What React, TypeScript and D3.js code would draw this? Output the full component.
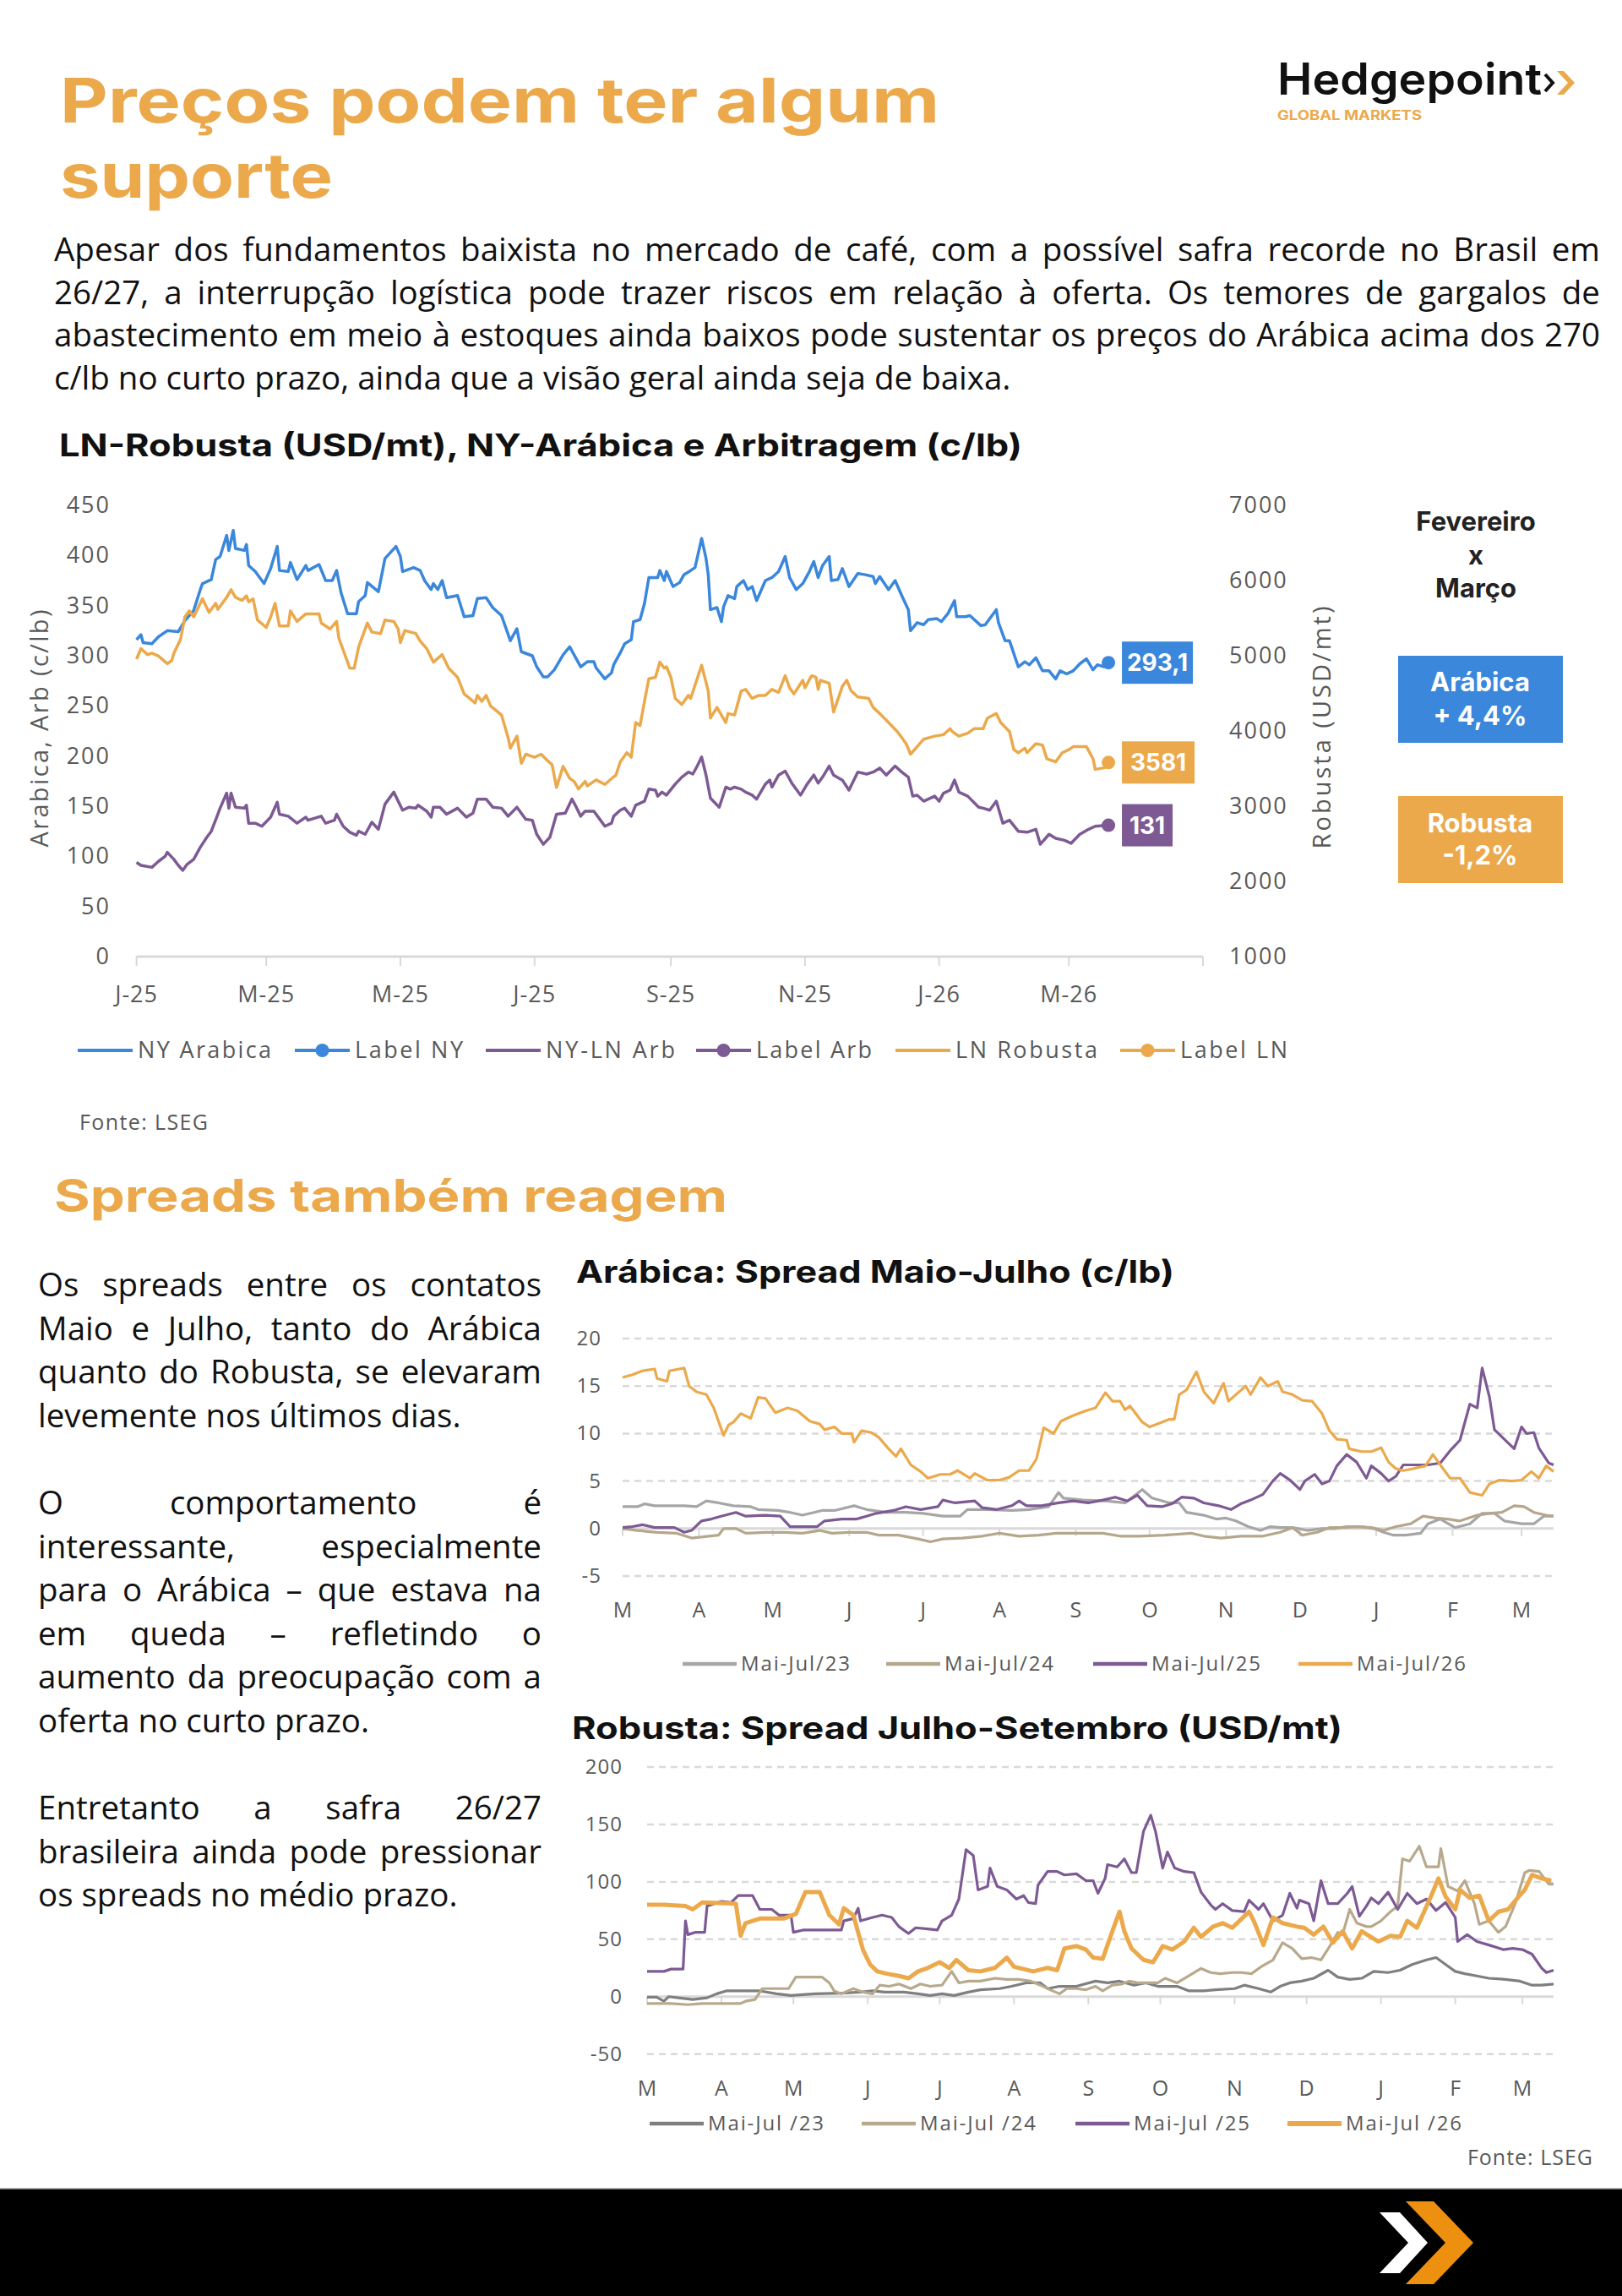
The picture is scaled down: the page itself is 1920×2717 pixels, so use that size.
import React, { useMemo } from "react";
import * as d3 from "d3";

// ---------- data ----------
// main chart: [days since 2025-01-01, value]
const NY_ARABICA: [number, number][] = [
  [0,316],[2,321],[3,313],[7,312],[10,319],[14,325],[19,324],[22,335],[26,345],[29,366],[30,372],[34,376],[36,396],[38,399],[41,420],[42,405],[44,425],[45,407],[49,405],[50,411],[51,390],[54,384],[57,375],[58,372],[61,387],[64,409],[65,385],[69,384],[70,393],[73,376],[77,390],[78,385],[83,391],[86,375],[89,375],[91,385],[93,363],[96,342],[100,342],[101,354],[104,360],[105,373],[110,364],[113,397],[118,409],[120,399],[121,384],[126,388],[129,385],[131,375],[134,366],[135,372],[137,366],[139,375],[141,358],[146,360],[149,339],[153,340],[155,357],[159,358],[162,348],[166,340],[170,315],[173,327],[175,304],[180,300],[182,289],[185,279],[187,279],[190,286],[194,301],[197,309],[200,297],[202,289],[205,294],[208,294],[209,288],[213,277],[216,283],[217,291],[220,303],[222,312],[225,316],[226,334],[229,336],[231,352],[233,378],[237,378],[238,385],[240,375],[241,384],[244,369],[247,373],[249,381],[252,385],[254,388],[257,417],[259,397],[260,381],[261,346],[264,348],[266,334],[267,349],[269,360],[272,357],[273,369],[276,375],[278,366],[280,369],[282,355],[286,375],[289,378],[292,384],[295,399],[297,378],[300,366],[303,372],[306,384],[308,394],[310,378],[312,390],[315,399],[316,375],[319,376],[321,387],[324,369],[328,382],[331,381],[335,379],[336,372],[338,379],[342,366],[345,375],[348,360],[351,346],[352,325],[355,333],[358,331],[360,336],[364,337],[366,334],[369,342],[372,355],[373,339],[377,339],[379,340],[384,330],[386,331],[391,346],[392,333],[395,315],[397,315],[401,289],[404,294],[406,291],[409,298],[412,285],[415,285],[418,277],[420,285],[423,282],[426,285],[429,292],[432,297],[435,286],[437,291],[440,289],[442,293.1],
];
const LN_ROBUSTA: [number, number][] = [
  [0,4955],[2,5095],[5,5015],[7,5035],[10,4995],[14,4895],[16,4935],[17,5035],[20,5216],[22,5517],[24,5597],[26,5517],[30,5757],[33,5577],[36,5697],[37,5617],[41,5777],[43,5878],[45,5777],[48,5737],[50,5797],[51,5717],[53,5757],[55,5476],[59,5376],[61,5517],[63,5697],[65,5396],[69,5396],[70,5597],[73,5456],[77,5557],[83,5557],[84,5436],[88,5356],[91,5456],[92,5236],[97,4834],[99,4834],[101,5115],[105,5436],[107,5316],[111,5296],[113,5476],[117,5456],[119,5356],[120,5175],[122,5336],[127,5296],[129,5196],[132,5095],[135,4915],[139,5015],[142,4834],[146,4714],[149,4493],[154,4373],[155,4473],[157,4393],[159,4473],[161,4333],[166,4212],[169,3911],[170,3771],[173,3931],[175,3570],[177,3691],[181,3651],[184,3691],[186,3631],[189,3550],[191,3249],[194,3530],[197,3370],[199,3330],[201,3229],[204,3330],[205,3269],[209,3350],[213,3289],[217,3390],[218,3410],[220,3590],[223,3711],[225,3651],[227,4112],[229,4072],[231,4393],[233,4694],[236,4714],[238,4915],[240,4834],[241,4854],[243,4714],[245,4433],[248,4353],[251,4473],[252,4433],[257,4874],[260,4533],[261,4172],[264,4313],[268,4112],[269,4232],[272,4212],[275,4533],[277,4553],[280,4433],[283,4473],[286,4473],[289,4553],[292,4513],[295,4734],[297,4574],[299,4493],[303,4674],[304,4574],[307,4734],[309,4714],[310,4553],[311,4674],[315,4634],[317,4252],[321,4594],[323,4674],[325,4533],[328,4453],[333,4433],[335,4313],[338,4232],[342,4112],[346,3992],[350,3831],[352,3691],[355,3791],[358,3891],[363,3931],[367,3951],[370,4031],[371,3992],[374,3931],[378,3971],[381,4031],[385,4031],[387,4172],[391,4232],[393,4112],[397,3992],[399,3751],[401,3711],[404,3771],[405,3711],[409,3831],[412,3811],[414,3631],[418,3590],[421,3711],[424,3751],[426,3791],[429,3791],[432,3791],[435,3631],[436,3490],[440,3510],[442,3581],
];
const NY_LN_ARB: [number, number][] = [
  [0,94],[2,91],[7,89],[10,95],[13,100],[14,104],[17,97],[19,91],[21,86],[23,92],[26,97],[29,109],[32,119],[34,125],[37,142],[38,148],[41,163],[42,148],[43,163],[45,149],[49,148],[50,151],[51,133],[54,133],[57,130],[61,139],[64,154],[65,142],[69,140],[73,133],[77,139],[78,136],[84,140],[86,133],[90,136],[91,142],[94,130],[97,124],[100,121],[101,125],[104,122],[107,134],[110,127],[113,152],[117,164],[121,146],[124,149],[127,148],[128,151],[132,145],[134,139],[135,149],[138,149],[141,142],[146,148],[150,139],[153,143],[155,157],[159,157],[162,149],[166,148],[169,140],[173,149],[177,137],[180,136],[182,122],[185,112],[188,119],[191,142],[195,143],[198,157],[200,149],[202,140],[204,145],[208,145],[211,136],[213,130],[216,133],[217,140],[220,146],[222,148],[225,140],[227,151],[231,155],[233,167],[236,166],[237,160],[239,164],[241,161],[245,172],[248,179],[251,184],[253,182],[255,190],[257,199],[259,181],[261,158],[265,149],[268,169],[270,167],[272,169],[275,167],[277,164],[280,161],[282,157],[286,172],[288,176],[289,169],[292,181],[295,185],[298,173],[302,161],[305,172],[308,181],[310,173],[312,179],[315,190],[317,181],[321,176],[324,166],[328,184],[332,182],[335,184],[338,188],[341,181],[345,190],[348,184],[351,179],[353,160],[355,161],[358,155],[363,160],[365,155],[367,163],[370,166],[372,176],[374,164],[378,160],[383,149],[385,148],[388,146],[391,155],[394,133],[397,136],[401,125],[405,124],[409,127],[411,112],[415,122],[418,118],[422,116],[425,113],[429,122],[433,127],[436,130],[442,131],
];
const LAST_LABELS = ["293,1", "3581", "131"];
const MAIN_X_LABELS = ["J-25", "M-25", "M-25", "J-25", "S-25", "N-25", "J-26", "M-26"];
const MAIN_LEGEND = ["NY Arabica", "Label NY", "NY-LN Arb", "Label Arb", "LN Robusta", "Label LN"];

// spreads: [days since 1 March of the season, value]
const ARA_23: [number, number][] = [
  [0,2.3],[6,2.3],[9,2.6],[13,2.4],[18,2.4],[25,2.4],[30,2.3],[34,2.9],[39,2.7],[45,2.4],[52,2.3],[55,2.0],[63,1.9],[68,1.7],[73,1.4],[81,1.9],[86,1.9],[94,2.4],[99,2.0],[107,1.7],[115,1.7],[122,1.6],[130,1.3],[137,1.3],[140,2.0],[148,2.0],[158,1.9],[165,2.0],[173,2.3],[177,3.8],[179,3.2],[187,3.0],[196,2.9],[204,2.7],[211,4.1],[215,3.2],[222,2.7],[226,2.7],[229,1.7],[236,1.4],[241,1.0],[245,1.1],[249,0.8],[254,0.2],[259,-0.2],[263,0.2],[267,0.1],[272,0.1],[278,-0.2],[284,0],[289,0],[294,0.2],[300,0.2],[305,0],[309,-0.4],[313,-0.7],[318,-0.7],[324,-0.5],[327,0.5],[332,1.0],[338,0.1],[344,0.5],[349,1.6],[354,1.6],[358,0.8],[365,0.5],[370,0.5],[374,1.3],[378,1.3],
];
const ARA_24: [number, number][] = [
  [0,0],[6,-0.2],[14,-0.4],[22,-0.5],[28,-1.0],[35,-0.8],[39,-0.7],[41,0],[46,0],[50,-0.5],[58,-0.4],[66,-0.4],[73,-0.5],[80,-0.2],[85,-0.5],[92,-0.4],[99,-0.4],[104,-0.7],[112,-0.7],[120,-1.1],[125,-1.4],[130,-1.1],[138,-1.0],[146,-0.8],[153,-0.5],[161,-0.8],[169,-0.7],[176,-0.5],[184,-0.5],[195,-0.5],[202,-0.8],[210,-0.8],[220,-0.7],[231,-0.5],[236,-0.8],[243,-1.0],[251,-0.8],[260,-0.8],[267,-0.4],[272,0.1],[276,-0.7],[282,-0.4],[287,0.1],[293,0.1],[298,0.2],[304,0.1],[309,-0.2],[314,0.2],[320,0.5],[325,1.3],[330,1.1],[335,1.0],[340,0.8],[347,1.4],[352,1.6],[357,1.7],[362,2.4],[366,2.3],[370,1.7],[375,1.4],[378,1.3],
];
const ARA_25: [number, number][] = [
  [0,0.1],[4,0.2],[8,0.4],[13,0.1],[21,0.1],[25,-0.4],[28,-0.2],[32,0.8],[36,1.0],[40,1.3],[46,1.7],[50,1.3],[58,1.4],[64,1.3],[68,0.2],[79,0.2],[82,0.8],[89,1.0],[95,1.0],[99,1.3],[103,1.6],[110,1.9],[115,2.3],[121,2.0],[128,2.3],[130,3.0],[135,2.7],[143,2.9],[146,2.2],[152,2.0],[158,2.4],[161,2.9],[164,2.4],[170,2.4],[177,2.7],[183,2.9],[189,2.7],[195,3.0],[200,3.3],[205,2.9],[209,3.5],[213,2.4],[219,2.3],[223,2.6],[227,3.3],[232,3.2],[236,2.7],[242,2.4],[247,2.0],[251,2.6],[255,3.0],[260,3.6],[264,5.0],[267,5.8],[271,5.1],[275,4.1],[277,5.0],[281,5.7],[284,4.7],[287,5.0],[290,6.6],[294,7.8],[298,7.0],[302,5.3],[304,6.6],[308,5.8],[311,5.0],[314,5.5],[317,6.7],[321,6.7],[327,6.7],[332,6.9],[336,8.2],[340,9.3],[344,13.1],[347,12.7],[349,16.9],[352,13.8],[354,10.4],[358,9.4],[362,8.4],[365,10.7],[367,10.0],[370,10.1],[372,8.5],[376,6.9],[378,6.7],
];
const ARA_26: [number, number][] = [
  [0,15.9],[4,16.2],[8,16.6],[13,16.8],[14,15.8],[18,15.5],[19,16.6],[25,16.9],[27,15.0],[30,14.4],[34,14.1],[37,12.7],[41,9.8],[43,10.9],[45,11.2],[48,12.1],[52,11.6],[55,13.8],[58,13.7],[62,12.2],[67,12.7],[71,12.4],[76,11.3],[80,11.0],[82,10.4],[86,10.7],[89,10.0],[93,10.0],[94,9.1],[97,10.3],[101,10.1],[104,9.6],[108,8.4],[111,7.6],[113,8.4],[117,6.7],[121,6.0],[124,5.3],[129,5.7],[133,5.7],[136,6.1],[141,5.3],[143,5.8],[148,5.1],[153,5.1],[157,5.4],[161,6.1],[165,6.1],[168,7.3],[171,10.6],[175,10.0],[178,11.3],[183,11.9],[188,12.4],[192,12.7],[196,14.3],[199,13.4],[202,13.4],[204,12.5],[206,12.9],[211,11.2],[214,10.7],[217,11.0],[222,11.5],[224,11.5],[226,14.1],[229,14.6],[233,16.5],[236,14.4],[240,13.2],[244,15.3],[246,13.4],[249,14.1],[253,15.0],[255,14.1],[259,15.9],[262,15.0],[266,15.5],[268,14.4],[272,14.1],[276,13.5],[280,13.4],[284,12.1],[287,10.3],[290,9.4],[294,9.3],[295,8.4],[300,8.1],[304,8.1],[308,8.5],[311,7.0],[314,6.3],[317,6.1],[321,6.3],[326,6.6],[329,7.8],[332,6.7],[336,5.3],[340,5.3],[344,3.8],[349,3.5],[352,4.7],[356,5.1],[361,5.0],[365,5.1],[369,6.0],[372,5.3],[375,6.6],[378,6.0],
];
const ROB_23: [number, number][] = [
  [0,-0.5],[4,-0.5],[7,-4],[9,0],[13,-1],[19,-2.5],[25,-1],[29,2.5],[33,5],[47,5],[54,2.5],[60,1],[70,2.5],[81,3],[89,4],[94,5],[99,4],[107,4],[113,2.5],[118,1],[123,2.5],[128,1],[134,4],[139,6],[147,7],[152,9],[158,12],[164,12],[167,7],[172,9],[179,9],[187,13.5],[192,12],[197,13.5],[203,10],[208,12],[213,9],[221,9],[226,5],[232,5],[237,6],[245,7],[249,10],[255,7],[260,4],[264,9],[268,12],[273,13.5],[278,16],[284,23],[288,17],[293,15],[298,16],[303,22],[309,21],[314,23],[319,28],[325,32],[329,34],[333,28],[337,22],[341,20],[346,18],[351,16],[358,15],[364,13.5],[369,10],[373,10],[378,11],
];
const ROB_24: [number, number][] = [
  [0,-6],[10,-6],[17,-7],[23,-6],[39,-6],[41,-4],[45,-2.5],[48,7],[59,7],[62,17],[73,17],[76,12],[78,5],[81,2.5],[86,7],[90,4],[94,2.5],[97,10],[101,9],[105,11],[110,7],[114,11],[118,9],[123,10],[127,22],[130,12],[134,13.5],[139,13.5],[145,16],[150,15],[155,15],[160,13.5],[164,10],[168,6],[172,2.5],[175,7],[179,7],[183,6],[187,9],[190,5],[194,10],[198,11],[201,13.5],[205,12],[209,12],[213,12],[216,16],[221,12],[225,17],[231,24.5],[235,21],[239,20],[244,21],[248,21],[252,20],[256,26],[261,32],[265,47],[269,42],[273,33],[277,34],[281,32],[285,45],[288,56],[290,54],[293,76],[296,64],[300,61],[302,61],[306,66],[310,74],[313,79],[315,120],[318,118],[322,131],[325,113],[330,113],[331,129],[334,96],[338,92],[341,101],[345,81],[347,63],[351,66],[355,56],[358,61],[362,81],[366,108],[368,110],[372,109],[376,98],[378,98],
];
const ROB_25: [number, number][] = [
  [0,22],[7,22],[10,24],[15,24],[16,66],[17,54],[20,56],[24,56],[25,79],[31,83],[35,82],[38,88],[44,88],[47,76],[52,76],[55,71],[60,71],[61,56],[65,58],[70,58],[81,58],[82,66],[86,68],[88,77],[89,66],[94,69],[98,71],[102,69],[105,61],[109,55],[112,60],[117,59],[121,58],[123,66],[127,71],[130,85],[133,128],[136,123],[138,93],[142,96],[143,112],[146,96],[150,93],[154,85],[157,88],[159,82],[162,81],[163,97],[167,109],[171,109],[174,106],[179,107],[183,101],[186,101],[188,90],[191,103],[192,115],[196,113],[199,120],[202,108],[204,108],[207,144],[210,158],[212,144],[215,112],[217,126],[220,112],[224,109],[228,108],[231,91],[235,80],[237,76],[240,81],[244,75],[249,74],[251,84],[255,76],[257,81],[261,66],[265,71],[268,90],[271,77],[272,84],[276,81],[278,66],[281,101],[284,81],[288,81],[292,90],[294,96],[297,70],[300,79],[302,86],[305,81],[309,91],[313,76],[317,90],[321,81],[325,85],[329,75],[333,82],[337,69],[338,48],[342,54],[346,48],[351,45],[357,41],[361,42],[365,41],[369,37],[373,25],[375,21],[378,23],
];
const ROB_26: [number, number][] = [
  [0,80],[7,80],[16,79],[19,76],[23,82],[37,81],[39,53],[41,64],[47,68],[57,68],[62,72],[66,91],[72,91],[76,71],[80,63],[82,77],[86,71],[90,41],[93,28],[96,22],[100,20],[105,18],[109,16],[113,22],[117,25],[122,30],[126,25],[129,32],[134,23],[139,22],[145,25],[150,34],[153,26],[161,22],[167,25],[171,23],[174,42],[179,44],[183,41],[186,34],[190,33],[194,57],[197,74],[199,57],[202,42],[207,32],[211,30],[215,44],[219,41],[224,48],[228,60],[231,52],[236,61],[240,64],[244,60],[248,68],[251,74],[253,66],[257,45],[261,69],[265,64],[271,61],[274,60],[278,54],[282,61],[286,47],[290,57],[294,42],[298,57],[301,53],[305,48],[310,53],[314,52],[317,66],[321,60],[324,74],[327,88],[330,103],[333,87],[337,76],[339,93],[343,86],[347,88],[351,66],[355,74],[359,76],[363,86],[366,93],[369,106],[373,103],[377,101],
];
const MONTH_LETTERS = ["M", "A", "M", "J", "J", "A", "S", "O", "N", "D", "J", "F", "M"];
const ARA_LEGEND = ["Mai-Jul/23", "Mai-Jul/24", "Mai-Jul/25", "Mai-Jul/26"];
const ROB_LEGEND = ["Mai-Jul /23", "Mai-Jul /24", "Mai-Jul /25", "Mai-Jul /26"];

const INTRO = [
  "Apesar dos fundamentos baixista no mercado de café, com a possível safra recorde no Brasil em",
  "26/27, a interrupção logística pode trazer riscos em relação à oferta. Os temores de gargalos de",
  "abastecimento em meio à estoques ainda baixos pode sustentar os preços do Arábica acima dos 270",
  "c/lb no curto prazo, ainda que a visão geral ainda seja de baixa.",
];
const SIDE_TEXT = [
  ["Os spreads entre os contatos", "Maio e Julho, tanto do Arábica", "quanto do Robusta, se elevaram", "levemente nos últimos dias."],
  ["O comportamento é", "interessante, especialmente", "para o Arábica – que estava na", "em queda – refletindo o", "aumento da preocupação com a", "oferta no curto prazo."],
  ["Entretanto a safra 26/27", "brasileira ainda pode pressionar", "os spreads no médio prazo."],
];

// ---------- style ----------
const ORANGE = "#EBA94C";
const BLUE = "#3A87DB";
const PURPLE = "#7D5A93";
const GREY_TXT = "#595959";
const GRID = "#D9D9D9";
const HEAD = "Inter, 'Open Sans', sans-serif";
const BODY = "'Open Sans', sans-serif";
const AXIS = "'Open Sans', sans-serif";

const canvas = typeof document !== "undefined" ? document.createElement("canvas") : null;
const measure = (s: string, font: string) => {
  const ctx = canvas!.getContext("2d")!;
  ctx.font = font;
  return ctx.measureText(s).width;
};

type Word = { x: number; y: number; t: string };
function justify(lines: string[], x0: number, x1: number, y0: number, lh: number, size: number): Word[] {
  const font = `${size}px "Open Sans"`;
  const out: Word[] = [];
  lines.forEach((line, i) => {
    const y = y0 + i * lh;
    const words = line.split(" ");
    if (i === lines.length - 1 || words.length === 1) {
      out.push({ x: x0, y, t: line });
      return;
    }
    const widths = words.map((w) => measure(w, font));
    const gap = (x1 - x0 - d3.sum(widths)) / (words.length - 1);
    let x = x0;
    words.forEach((w, j) => {
      out.push({ x, y, t: w });
      x += widths[j] + gap;
    });
  });
  return out;
}

const T0 = new Date(2025, 0, 1);
const S0 = new Date(2025, 2, 1);

function SpreadChart(props: {
  series: [number, number][][];
  colors: string[];
  widths: number[];
  legend: string[];
  legendX: number[];
  legendW: number;
  x0: number;
  x1: number;
  yDomain: [number, number];
  yRange: [number, number];
  yTicks: number[];
  labelX: number;
  monthY: number;
  legendY: number;
}) {
  const x = d3.scaleTime().domain([S0, d3.timeDay.offset(S0, 378)]).range([props.x0, props.x1]);
  const y = d3.scaleLinear().domain(props.yDomain).range(props.yRange);
  const line = d3
    .line<[number, number]>()
    .x((d) => x(d3.timeDay.offset(S0, d[0])))
    .y((d) => y(d[1]));
  const months = d3.timeMonth.range(S0, d3.timeDay.offset(S0, 370));
  return (
    <g>
      {props.yTicks.map((t) => (
        <g key={t}>
          <line
            x1={props.x0}
            x2={props.x1}
            y1={y(t)}
            y2={y(t)}
            stroke={GRID}
            strokeWidth={t === 0 ? 3 : 2.5}
            strokeDasharray={t === 0 ? undefined : "8 6"}
          />
          <text x={props.labelX} y={y(t) + 8} textAnchor="end" fontSize={24} fill={GREY_TXT} fontFamily={AXIS} letterSpacing={1}>
            {t}
          </text>
        </g>
      ))}
      {months.map((m, i) => (
        <g key={i}>
          <line x1={x(m)} x2={x(m)} y1={y(0)} y2={y(0) + 9} stroke={GRID} strokeWidth={2} />
          <text x={x(m)} y={props.monthY} textAnchor="middle" fontSize={25} fill={GREY_TXT} fontFamily={AXIS}>
            {MONTH_LETTERS[i]}
          </text>
        </g>
      ))}
      {props.series.map((s, i) => (
        <path
          key={i}
          d={line(s) || ""}
          fill="none"
          stroke={props.colors[i]}
          strokeWidth={props.widths[i]}
          strokeLinejoin="round"
        />
      ))}
      {props.legend.map((l, i) => (
        <g key={l}>
          <line
            x1={props.legendX[i]}
            x2={props.legendX[i] + 64}
            y1={props.legendY}
            y2={props.legendY}
            stroke={props.colors[i]}
            strokeWidth={Math.max(4.5, props.widths[i] + 1)}
          />
          <text
            x={props.legendX[i] + 69}
            y={props.legendY + 8}
            fontSize={24}
            fill={GREY_TXT}
            fontFamily={AXIS}
            textLength={props.legendW}
            lengthAdjust="spacing"
          >
            {l}
          </text>
        </g>
      ))}
    </g>
  );
}

export default function App() {
  const intro = useMemo(() => justify(INTRO, 64, 1894, 309, 50.7, 38.5), []);
  const side = useMemo(() => {
    const starts = [0, 5, 12];
    return SIDE_TEXT.flatMap((p, i) => justify(p, 45, 641, 1534 + starts[i] * 51.6, 51.6, 38.5));
  }, []);

  // main chart scales
  const x = d3.scaleTime().domain([T0, new Date(2026, 4, 1)]).range([161.6, 1424]);
  const yL = d3.scaleLinear().domain([0, 450]).range([1132, 598]);
  const yR = d3.scaleLinear().domain([1000, 7000]).range([1132, 598]);
  const lineL = d3
    .line<[number, number]>()
    .x((d) => x(d3.timeDay.offset(T0, d[0])))
    .y((d) => yL(d[1]));
  const lineR = d3
    .line<[number, number]>()
    .x((d) => x(d3.timeDay.offset(T0, d[0])))
    .y((d) => yR(d[1]));
  const xTicks = d3.timeMonth.every(2)!.range(T0, new Date(2026, 4, 2));

  const lastPts = [
    { s: NY_ARABICA, y: yL, c: BLUE, w: 84 },
    { s: LN_ROBUSTA, y: yR, c: ORANGE, w: 86 },
    { s: NY_LN_ARB, y: yL, c: PURPLE, w: 60 },
  ].map((o) => {
    const d = o.s[o.s.length - 1];
    return { ...o, px: x(d3.timeDay.offset(T0, d[0])), py: o.y(d[1]) };
  });

  const legendItems = [
    { x: 92, c: BLUE, m: false, w: 158 },
    { x: 349, c: BLUE, m: true, w: 128 },
    { x: 575, c: PURPLE, m: false, w: 153 },
    { x: 824, c: PURPLE, m: true, w: 137 },
    { x: 1060, c: ORANGE, m: false, w: 168 },
    { x: 1326, c: ORANGE, m: true, w: 127 },
  ];

  return (
    <svg
      width={1920}
      height={2717}
      viewBox="0 0 1920 2717"
      style={{ position: "absolute", left: 0, top: 0, display: "block", background: "#fff" }}
    >
      <rect width={1920} height={2717} fill="#fff" />

      {/* header */}
      <text x={71} y={145} fontFamily={HEAD} fontWeight={700} fontSize={73} fill={ORANGE} textLength={1041} lengthAdjust="spacingAndGlyphs">
        Preços podem ter algum
      </text>
      <text x={71} y={234} fontFamily={HEAD} fontWeight={700} fontSize={73} fill={ORANGE} textLength={323} lengthAdjust="spacingAndGlyphs">
        suporte
      </text>
      <text x={1512} y={112} fontFamily={HEAD} fontWeight={600} fontSize={52} fill="#111" textLength={313} lengthAdjust="spacingAndGlyphs">
        Hedgepoint
      </text>
      <polyline points="1829,88 1838,98 1829,108" fill="none" stroke="#111" strokeWidth={4} />
      <polygon points="1843,84 1851,84 1864,98 1851,112 1843,112 1856,98" fill={ORANGE} />
      <text x={1512} y={142} fontFamily={HEAD} fontWeight={700} fontSize={16} fill={ORANGE} textLength={171} lengthAdjust="spacingAndGlyphs">
        GLOBAL MARKETS
      </text>

      {intro.map((w, i) => (
        <text key={i} x={w.x} y={w.y} fontFamily={BODY} fontSize={38.5} fill="#111">
          {w.t}
        </text>
      ))}

      {/* main chart */}
      <text x={70} y={540} fontFamily={HEAD} fontWeight={700} fontSize={37} fill="#111" textLength={1140} lengthAdjust="spacingAndGlyphs">
        LN-Robusta (USD/mt), NY-Arábica e Arbitragem (c/lb)
      </text>
      <line x1={161.6} x2={1424} y1={1132} y2={1132} stroke={GRID} strokeWidth={3} />
      {xTicks.map((t, i) => (
        <g key={i}>
          <line x1={x(t)} x2={x(t)} y1={1132} y2={1143} stroke={GRID} strokeWidth={2} />
          {MAIN_X_LABELS[i] && (
            <text x={x(t)} y={1186} textAnchor="middle" fontSize={27} fill={GREY_TXT} fontFamily={AXIS} letterSpacing={1}>
              {MAIN_X_LABELS[i]}
            </text>
          )}
        </g>
      ))}
      {yL.ticks(9).map((t) => (
        <text key={t} x={131} y={yL(t) + 9} textAnchor="end" fontSize={27} fill={GREY_TXT} fontFamily={AXIS} letterSpacing={2}>
          {t}
        </text>
      ))}
      {yR.ticks(6).map((t) => (
        <text key={t} x={1455} y={yR(t) + 9} fontSize={27} fill={GREY_TXT} fontFamily={AXIS} letterSpacing={2}>
          {t}
        </text>
      ))}
      <text transform="translate(57,862) rotate(-90)" textAnchor="middle" fontSize={29} fill={GREY_TXT} fontFamily={AXIS} textLength={281} lengthAdjust="spacing">
        Arabica, Arb (c/lb)
      </text>
      <text transform="translate(1575,861) rotate(-90)" textAnchor="middle" fontSize={29} fill={GREY_TXT} fontFamily={AXIS} textLength={287} lengthAdjust="spacing">
        Robusta (USD/mt)
      </text>

      <path d={lineL(NY_ARABICA) || ""} fill="none" stroke={BLUE} strokeWidth={3.5} strokeLinejoin="round" />
      <path d={lineL(NY_LN_ARB) || ""} fill="none" stroke={PURPLE} strokeWidth={3.5} strokeLinejoin="round" />
      <path d={lineR(LN_ROBUSTA) || ""} fill="none" stroke={ORANGE} strokeWidth={3.5} strokeLinejoin="round" />

      {lastPts.map((p, i) => (
        <g key={i}>
          <circle cx={p.px} cy={p.py} r={8} fill={p.c} />
          <rect x={p.px + 16} y={p.py - 25} width={p.w} height={50} fill={p.c} />
          <text x={p.px + 16 + p.w / 2} y={p.py + 10} textAnchor="middle" fontFamily={HEAD} fontWeight={700} fontSize={28} fill="#fff">
            {LAST_LABELS[i]}
          </text>
        </g>
      ))}

      {legendItems.map((it, i) => (
        <g key={i}>
          <line x1={it.x} x2={it.x + 65} y1={1243} y2={1243} stroke={it.c} strokeWidth={4} />
          {it.m && <circle cx={it.x + 32.5} cy={1243} r={8} fill={it.c} />}
          <text x={it.x + 71} y={1252} fontSize={27} fill={GREY_TXT} fontFamily={AXIS} textLength={it.w} lengthAdjust="spacing">
            {MAIN_LEGEND[i]}
          </text>
        </g>
      ))}
      <text x={94} y={1337} fontSize={25} fill={GREY_TXT} fontFamily={AXIS} textLength={152} lengthAdjust="spacing">
        Fonte: LSEG
      </text>

      {/* right panel */}
      {["Fevereiro", "x", "Março"].map((t, i) => (
        <text key={t} x={1747} y={628 + i * 39.5} textAnchor="middle" fontFamily={HEAD} fontWeight={700} fontSize={31} fill="#222">
          {t}
        </text>
      ))}
      <rect x={1655} y={776} width={195} height={103} fill={BLUE} />
      <text x={1752} y={818} textAnchor="middle" fontFamily={HEAD} fontWeight={700} fontSize={31} fill="#fff">
        Arábica
      </text>
      <text x={1752} y={858} textAnchor="middle" fontFamily={HEAD} fontWeight={700} fontSize={31} fill="#fff">
        + 4,4%
      </text>
      <rect x={1655} y={942} width={195} height={103} fill={ORANGE} />
      <text x={1752} y={985} textAnchor="middle" fontFamily={HEAD} fontWeight={700} fontSize={31} fill="#fff">
        Robusta
      </text>
      <text x={1752} y={1023} textAnchor="middle" fontFamily={HEAD} fontWeight={700} fontSize={31} fill="#fff">
        -1,2%
      </text>

      {/* spreads section */}
      <text x={64} y={1434} fontFamily={HEAD} fontWeight={700} fontSize={53} fill={ORANGE} textLength={797} lengthAdjust="spacingAndGlyphs">
        Spreads também reagem
      </text>
      {side.map((w, i) => (
        <text key={i} x={w.x} y={w.y} fontFamily={BODY} fontSize={38.5} fill="#111">
          {w.t}
        </text>
      ))}

      <text x={682} y={1518} fontFamily={HEAD} fontWeight={700} fontSize={37} fill="#111" textLength={708} lengthAdjust="spacingAndGlyphs">
        Arábica: Spread Maio-Julho (c/lb)
      </text>
      <SpreadChart
        series={[ARA_23, ARA_24, ARA_25, ARA_26]}
        colors={["#A6A6A6", "#B5A78C", PURPLE, ORANGE]}
        widths={[3.2, 3.2, 3.2, 3.2]}
        legend={ARA_LEGEND}
        legendX={[808, 1049, 1294, 1537]}
        legendW={129}
        x0={737}
        x1={1839}
        yDomain={[-5, 20]}
        yRange={[1865, 1584]}
        yTicks={[-5, 0, 5, 10, 15, 20]}
        labelX={712}
        monthY={1914}
        legendY={1969}
      />

      <text x={677} y={2058} fontFamily={HEAD} fontWeight={700} fontSize={37} fill="#111" textLength={912} lengthAdjust="spacingAndGlyphs">
        Robusta: Spread Julho-Setembro (USD/mt)
      </text>
      <SpreadChart
        series={[ROB_23, ROB_24, ROB_25, ROB_26]}
        colors={["#7F7F7F", "#B8A98C", PURPLE, ORANGE]}
        widths={[3.2, 3.2, 3.2, 5]}
        legend={ROB_LEGEND}
        legendX={[769, 1020, 1273, 1524]}
        legendW={137}
        x0={766}
        x1={1839}
        yDomain={[-50, 200]}
        yRange={[2430.7, 2091]}
        yTicks={[-50, 0, 50, 100, 150, 200]}
        labelX={737}
        monthY={2480}
        legendY={2513}
      />
      <text x={1886} y={2562} textAnchor="end" fontSize={25} fill={GREY_TXT} fontFamily={AXIS} letterSpacing={1}>
        Fonte: LSEG
      </text>

      {/* footer */}
      <rect x={0} y={2590} width={1920} height={127} fill="#000" />
      <line x1={0} x2={1920} y1={2590} y2={2590} stroke="#9a9a9a" strokeWidth={1.5} />
      <polygon points="1633,2618 1657,2618 1690,2654 1657,2690 1633,2690 1667,2654" fill="#fff" />
      <polygon points="1664,2605 1697,2605 1744,2654 1697,2703 1664,2703 1711,2654" fill="#EE900F" />
    </svg>
  );
}
